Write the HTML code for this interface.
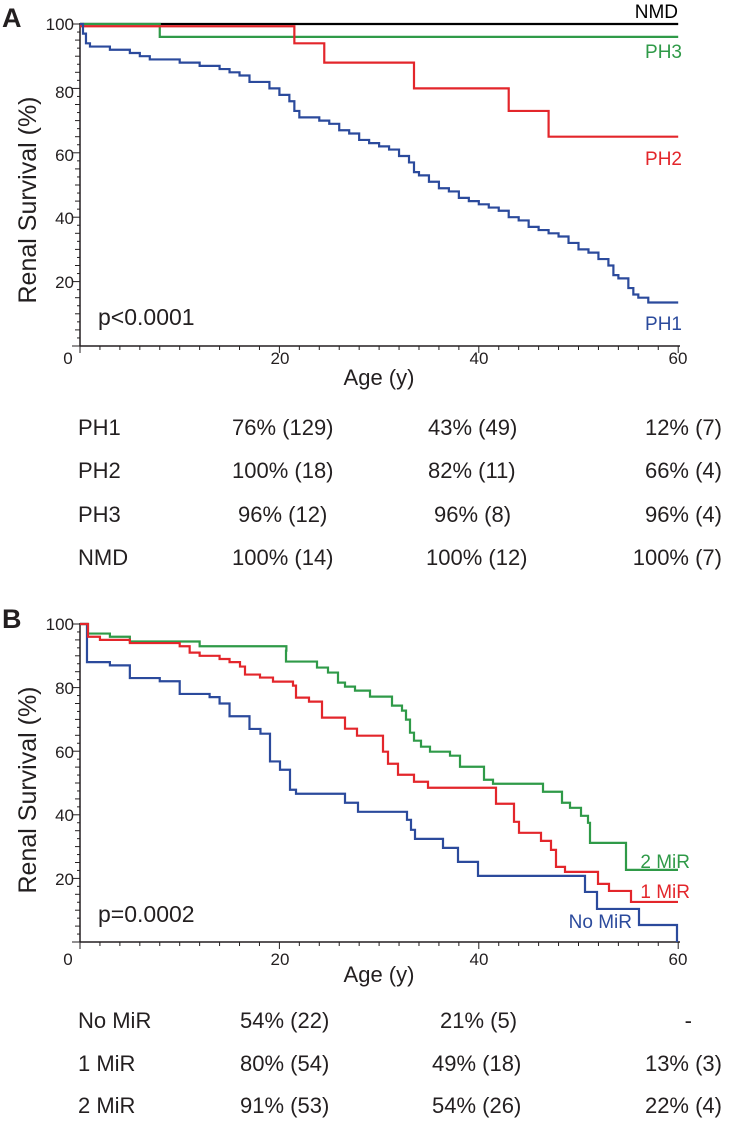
<!DOCTYPE html>
<html><head><meta charset="utf-8"><style>
body{margin:0;background:#fff;width:734px;height:1120px;overflow:hidden}
svg text{font-family:"Liberation Sans",Arial,sans-serif;fill:#231f20}
</style></head><body>
<svg id="s" width="734" height="1120" viewBox="0 0 734 1120" xmlns="http://www.w3.org/2000/svg">
<g id="g"></g>
<text x="2" y="27" font-size="27" font-weight="bold">A</text>
<text x="2" y="628" font-size="27" font-weight="bold">B</text>
<text transform="translate(36,200) rotate(-90)" font-size="25" text-anchor="middle">Renal Survival (%)</text>
<text transform="translate(36,790) rotate(-90)" font-size="25" text-anchor="middle">Renal Survival (%)</text>
<g font-size="17" text-anchor="end">
<text x="74" y="30">100</text><text x="74" y="98">80</text><text x="74" y="161">60</text><text x="74" y="224">40</text><text x="74" y="288">20</text>
<text x="74" y="630">100</text><text x="74" y="694">80</text><text x="74" y="758">60</text><text x="74" y="821">40</text><text x="74" y="885">20</text>
</g>
<g font-size="17" text-anchor="middle">
<text x="68" y="364">0</text><text x="280" y="364">20</text><text x="479" y="364">40</text><text x="678" y="364">60</text>
<text x="68" y="965">0</text><text x="280" y="965">20</text><text x="479" y="965">40</text><text x="678" y="965">60</text>
</g>
<text x="379" y="385" font-size="22" text-anchor="middle">Age (y)</text>
<text x="379" y="982" font-size="22" text-anchor="middle">Age (y)</text>
<text x="98" y="325" font-size="23">p&lt;0.0001</text>
<text x="98" y="922" font-size="23">p=0.0002</text>
<g font-size="19" text-anchor="end">
<text x="678" y="18" style="fill:#000">NMD</text>
<text x="682" y="58" style="fill:#2f9a48">PH3</text>
<text x="682" y="165" style="fill:#e3262b">PH2</text>
<text x="682" y="330" style="fill:#2b4a9c">PH1</text>
<text x="690" y="868" style="fill:#2f9a48">2 MiR</text>
<text x="690" y="898" style="fill:#e3262b">1 MiR</text>
<text x="632" y="928" style="fill:#2b4a9c">No MiR</text>
</g>
<g font-size="22">
<text x="78" y="435">PH1</text><text x="232" y="435">76% (129)</text><text x="428" y="435">43% (49)</text><text x="722" y="435" text-anchor="end">12% (7)</text>
<text x="78" y="478">PH2</text><text x="232" y="478">100% (18)</text><text x="428" y="478">82% (11)</text><text x="722" y="478" text-anchor="end">66% (4)</text>
<text x="78" y="522">PH3</text><text x="238" y="522">96% (12)</text><text x="434" y="522">96% (8)</text><text x="722" y="522" text-anchor="end">96% (4)</text>
<text x="78" y="565">NMD</text><text x="232" y="565">100% (14)</text><text x="426" y="565">100% (12)</text><text x="722" y="565" text-anchor="end">100% (7)</text>
<text x="78" y="1028">No MiR</text><text x="240" y="1028">54% (22)</text><text x="440" y="1028">21% (5)</text><text x="692" y="1028" text-anchor="end">-</text>
<text x="78" y="1071">1 MiR</text><text x="240" y="1071">80% (54)</text><text x="432" y="1071">49% (18)</text><text x="722" y="1071" text-anchor="end">13% (3)</text>
<text x="78" y="1113">2 MiR</text><text x="240" y="1113">91% (53)</text><text x="432" y="1113">54% (26)</text><text x="722" y="1113" text-anchor="end">22% (4)</text>
</g>
</svg>
<script>
var g=document.getElementById('g'),NS='http://www.w3.org/2000/svg';
function el(t,a){var e=document.createElementNS(NS,t);for(var k in a)e.setAttribute(k,a[k]);g.appendChild(e);}
function axes(y100,y0){
 el('line',{x1:80,y1:y100-1,x2:80,y2:y0,stroke:'#231f20','stroke-width':1.5});
 el('line',{x1:80,y1:y0,x2:680,y2:y0,stroke:'#231f20','stroke-width':1.5});
 for(var p=0;p<=100;p+=2.5){var y=y0-(y0-y100)*p/100;var L=(p%20==0)?8:(p%5==0?5:3);el('line',{x1:80-L,y1:y,x2:80,y2:y,stroke:'#231f20','stroke-width':1});}
 for(var a=0;a<=60;a+=2){var x=80+a*9.97;var L=(a%20==0)?7:4;el('line',{x1:x,y1:y0,x2:x,y2:y0+L,stroke:'#231f20','stroke-width':1});}
}
function step(pts,y100,y0,c){
 var d='';for(var i=0;i<pts.length;i++){var x=80+pts[i][0]*9.97,y=y0-(y0-y100)*pts[i][1]/100;
 if(i==0)d='M'+x+','+y;else{d+=' H'+x+' V'+y;}}
 el('path',{d:d,fill:'none',stroke:c,'stroke-width':2.2});
}
axes(24,346);axes(624,942);
var A0=24,A1=346;
step([[0,100],[60,100]],A0,A1,'#000');
step([[0,100],[8,96],[60,96]],A0,A1,'#2f9a48');
step([[0,99.3],[21.5,94],[24.5,88],[33.5,80],[43,73],[47,65],[60,65]],A0,A1,'#e3262b');
step([[0,100],[0.3,97],[0.6,94],[1,93],[3,92],[5,91],[6,90],[7,89],[10,88],[12,87],[14,86],[15,85],[16,84],[17,82],[19,80],[20,78],[21,76],[21.5,73],[22,71],[24,70],[25,69],[26,67],[27,66],[28,64],[29,63],[30,62],[31,61],[32,59],[33,57],[33.5,54],[34,53],[35,51],[36,49],[37,48],[38,46],[39,45],[40,44],[41,43],[42,42],[43,40],[44,39],[45,37],[46,36],[47,35],[48,34],[49,32],[50,30],[51,29],[52,27],[53,25],[53.5,22],[54,21],[55,18],[55.5,16],[56,15],[57,13.5],[60,13.5]],A0,A1,'#2b4a9c');
var B0=624,B1=942;
function cv(arr){return arr.map(function(p){return [(p[0]-80)/9.97,(942-p[1])/3.175];});}
step([[0,100],[0.7,88],[3,87],[5,83],[8,82],[10,78],[13,77],[14,75],[15,71],[17,67],[18.1,65.5]].concat(cv([[270,761.7],[280,770],[290,790],[296,794],[345,803],[358,812],[407,820],[411,830],[415,839],[443,848],[458,862],[478,876],[585,892],[597,909],[639,925],[677,942]])),B0,B1,'#2b4a9c');
step([[0,100],[0.8,97],[3,96],[5,94.5],[12,93],[20.7,91.6]].concat(cv([[286,662],[317,668],[328,673],[338,683],[345,687],[355,691],[370,697],[392,706],[402,711],[406,720],[410,733],[414,741],[421,747],[430,752],[450,756],[460,767],[484,780],[493,784],[543,792],[562,803],[570,808],[581,816],[588,823],[590,843],[626,870],[678,870]])),B0,B1,'#2f9a48');
step([[0,100],[0.8,96],[2,95],[5,94],[10,93],[11,91],[12,90],[14,89],[15,88]].concat(cv([[240,667],[245,675],[260,678],[273,682],[293,686],[296,698],[309,702],[322,718],[345,729],[357,736],[383,752],[388,764],[398,775],[414,782],[428,788],[496,804],[514,822],[519,833],[541,841],[551,850],[556,867],[565,872],[598,884],[609,891],[631,902],[678,902]])),B0,B1,'#e3262b');
</script>
</body></html>
